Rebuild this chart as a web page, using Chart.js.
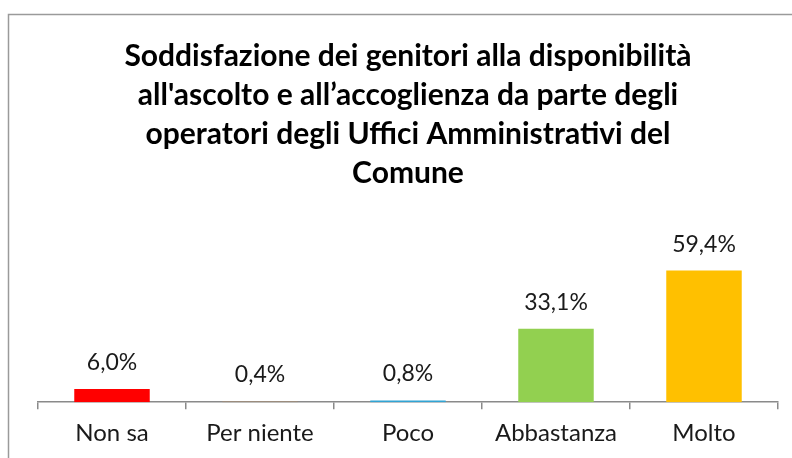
<!DOCTYPE html>
<html>
<head>
<meta charset="utf-8">
<script src="https://cdn.jsdelivr.net/npm/chart.js@4/dist/chart.umd.min.js"></script>
<style>
  html, body { margin: 0; padding: 0; background: #ffffff; }
  #wrap { width: 792px; height: 458px; }
</style>
</head>
<body>
<div id="wrap"><canvas id="soddisfazioneChart" width="792" height="458"></canvas></div>
<script>
// Data
const categories = ['Non sa', 'Per niente', 'Poco', 'Abbastanza', 'Molto'];
const percentValues = [6.0, 0.4, 0.8, 33.1, 59.4];
const barColors = ['#FF0000', '#A08C78', '#31A4D4', '#92D050', '#FFC000'];
const titleLines = [
    'Soddisfazione dei genitori alla disponibilità',
    'all\'ascolto e all’accoglienza da parte degli',
    'operatori degli Uffici Amministrativi del',
    'Comune'
];

const FONT_FAMILY = 'Lato, "Open Sans", sans-serif';

// frame round the chart (top and left edge only, the rest is cropped)
const framePlugin = {
    id: 'framePlugin',
    beforeDraw: function(chart) {
        const ctx = chart.ctx;
        ctx.save();
        ctx.fillStyle = '#ffffff';
        ctx.fillRect(0, 0, chart.width, chart.height);
        ctx.strokeStyle = '#9a9a9a';
        ctx.lineWidth = 1.5;
        ctx.beginPath();
        ctx.moveTo(8.5, chart.height);
        ctx.lineTo(8.5, 14.5);
        ctx.lineTo(chart.width, 14.5);
        ctx.stroke();
        ctx.restore();
    }
};

// value labels above each bar, Italian decimal comma
const valueLabelPlugin = {
    id: 'valueLabelPlugin',
    afterDatasetsDraw: function(chart) {
        const ctx = chart.ctx;
        const meta = chart.getDatasetMeta(0);
        ctx.save();
        ctx.font = '23px ' + FONT_FAMILY;
        ctx.fillStyle = '#1a1a1a';
        ctx.textAlign = 'center';
        ctx.textBaseline = 'alphabetic';
        meta.data.forEach(function(bar, i) {
            const label = percentValues[i].toFixed(1).replace('.', ',') + '%';
            ctx.fillText(label, bar.x, bar.y - 19);
        });
        ctx.restore();
    }
};

const ctx = document.getElementById('soddisfazioneChart').getContext('2d');
new Chart(ctx, {
    type: 'bar',
    data: {
        labels: categories,
        datasets: [{
            data: percentValues,
            backgroundColor: barColors,
            borderWidth: 0,
            barPercentage: 0.51,
            categoryPercentage: 1.0
        }]
    },
    options: {
        responsive: false,
        animation: false,
        layout: {
            padding: { left: 38, right: 14, top: 0, bottom: 0 }
        },
        scales: {
            y: {
                display: false,
                min: 0,
                max: 84.5
            },
            x: {
                grid: {
                    display: true,
                    drawOnChartArea: false,
                    drawTicks: true,
                    tickLength: 7,
                    color: '#8a8a8a',
                    lineWidth: 1.5
                },
                border: {
                    display: true,
                    color: '#8a8a8a',
                    width: 1.5
                },
                ticks: {
                    color: '#1a1a1a',
                    padding: 10,
                    font: { family: FONT_FAMILY, size: 24 }
                }
            }
        },
        plugins: {
            legend: { display: false },
            tooltip: { enabled: false },
            title: {
                display: true,
                text: titleLines,
                color: '#000000',
                font: { family: FONT_FAMILY, size: 30, weight: 'bold', lineHeight: 1.3 },
                padding: { top: 37, bottom: 22 }
            }
        }
    },
    plugins: [framePlugin, valueLabelPlugin]
});
</script>
</body>
</html>
